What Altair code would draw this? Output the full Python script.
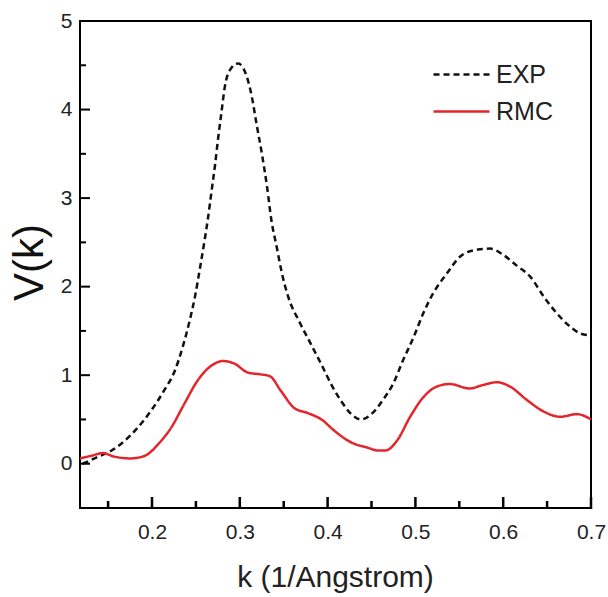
import altair as alt
import pandas as pd

# EXP (dashed black) curve
exp_k = [0.121, 0.139, 0.154, 0.169, 0.184, 0.199, 0.214, 0.226, 0.235, 0.243, 0.249, 0.255,
         0.260, 0.264, 0.268, 0.272, 0.2755, 0.279, 0.283, 0.289, 0.298, 0.308, 0.3136, 0.319,
         0.325, 0.331, 0.336, 0.342, 0.348, 0.355, 0.368, 0.380, 0.393, 0.405, 0.416, 0.427,
         0.438, 0.452, 0.463, 0.475, 0.486, 0.498, 0.509, 0.520, 0.536, 0.551, 0.566, 0.585,
         0.600, 0.615, 0.631, 0.646, 0.661, 0.676, 0.688, 0.699]
exp_v = [0.00, 0.08, 0.15, 0.26, 0.41, 0.60, 0.83, 1.05, 1.32, 1.62, 1.89, 2.23,
         2.53, 2.79, 3.09, 3.39, 3.69, 3.96, 4.26, 4.45, 4.52, 4.37, 4.15, 3.84,
         3.51, 3.13, 2.75, 2.45, 2.15, 1.89, 1.60, 1.37, 1.12, 0.88, 0.70, 0.56,
         0.50, 0.58, 0.72, 0.91, 1.17, 1.43, 1.70, 1.92, 2.15, 2.34, 2.41, 2.43,
         2.36, 2.24, 2.11, 1.89, 1.70, 1.55, 1.47, 1.45]

# RMC (solid red) curve
rmc_k = [0.118, 0.131, 0.144, 0.157, 0.176, 0.192, 0.207, 0.222, 0.237, 0.252, 0.268, 0.281,
         0.294, 0.309, 0.323, 0.334, 0.347, 0.362, 0.378, 0.393, 0.408, 0.427, 0.446, 0.457,
         0.466, 0.479, 0.494, 0.509, 0.524, 0.539, 0.562, 0.577, 0.593, 0.608, 0.627, 0.646,
         0.665, 0.684, 0.700]
rmc_v = [0.06, 0.09, 0.12, 0.08, 0.06, 0.09, 0.22, 0.41, 0.68, 0.94, 1.11, 1.16,
         1.13, 1.03, 1.01, 0.99, 0.82, 0.63, 0.57, 0.50, 0.37, 0.24, 0.18, 0.15,
         0.15, 0.26, 0.53, 0.75, 0.87, 0.90, 0.85, 0.89, 0.92, 0.87, 0.72, 0.59,
         0.53, 0.56, 0.50]

series_names = ["EXP", "RMC"]
series_colors = ["#111111", "#e4262c"]
series_dashes = [[6, 4], [1, 0]]

x_major = [0.2, 0.3, 0.4, 0.5, 0.6, 0.7]
x_minor = [0.15, 0.25, 0.35, 0.45, 0.55, 0.65]
y_major = [0, 1, 2, 3, 4, 5]
y_minor = [-0.5, 0.5, 1.5, 2.5, 3.5, 4.5]

df = pd.concat([
    pd.DataFrame({"k": exp_k, "v": exp_v, "series": "EXP", "order": range(len(exp_k))}),
    pd.DataFrame({"k": rmc_k, "v": rmc_v, "series": "RMC", "order": range(len(rmc_k))}),
])

FONT = "Liberation Sans"
W, H = 511, 487
MAJ, MIN = 11, 7

xscale = alt.Scale(domain=[0.118, 0.7], nice=False, zero=False)
yscale = alt.Scale(domain=[-0.5, 5], nice=False, zero=False)

lines = alt.Chart(df).mark_line(strokeWidth=2.5, interpolate="monotone", clip=True).encode(
    x=alt.X("k:Q", scale=xscale,
            axis=alt.Axis(orient="bottom", values=x_major, format=".1f", ticks=False, tickSize=0,
                          domain=False, grid=False, labelFlush=False,
                          labelFont=FONT, labelFontSize=21, labelColor="#222", labelPadding=13,
                          title="k (1/Angstrom)", titleFont=FONT, titleFontSize=30,
                          titleFontWeight="normal", titleColor="#222",
                          titleX=255, titleY=69, titleBaseline="middle", titleAlign="center")),
    y=alt.Y("v:Q", scale=yscale,
            axis=alt.Axis(orient="left", values=y_major, format="d", ticks=False, tickSize=0,
                          domain=False, grid=False, labelFlush=False,
                          labelFont=FONT, labelFontSize=21, labelColor="#222", labelPadding=8,
                          title="V(k)", titleFont=FONT, titleFontSize=42,
                          titleFontWeight="normal", titleColor="#111", titleAngle=270,
                          titleX=-51, titleY=241, titleBaseline="middle", titleAlign="center")),
    color=alt.Color("series:N", scale=alt.Scale(domain=series_names, range=series_colors),
                    legend=alt.Legend(orient="none", legendX=366, legendY=38, title=None,
                                      symbolType="M-2,0H2", symbolSize=784, symbolStrokeWidth=2.5,
                                      labelFont=FONT, labelFontSize=25, labelColor="#222",
                                      labelOffset=19, rowPadding=8, padding=0)),
    strokeDash=alt.StrokeDash("series:N", scale=alt.Scale(domain=series_names, range=series_dashes),
                              legend=None),
    order="order:Q",
)

# tick marks along the bottom and left edges, pointing into the plot
xt_major = alt.Chart(pd.DataFrame({"k": x_major})).mark_rule(color="black", strokeWidth=2.5).encode(
    x=alt.X("k:Q", scale=xscale), x2="k:Q", y=alt.value(H - MAJ), y2=alt.value(H + 1))
xt_minor = alt.Chart(pd.DataFrame({"k": x_minor})).mark_rule(color="black", strokeWidth=2.5).encode(
    x=alt.X("k:Q", scale=xscale), x2="k:Q", y=alt.value(H - MIN), y2=alt.value(H + 1))
yt_major = alt.Chart(pd.DataFrame({"v": y_major})).mark_rule(color="black", strokeWidth=2).encode(
    y=alt.Y("v:Q", scale=yscale), y2="v:Q", x=alt.value(0), x2=alt.value(10))
yt_minor = alt.Chart(pd.DataFrame({"v": y_minor})).mark_rule(color="black", strokeWidth=2).encode(
    y=alt.Y("v:Q", scale=yscale), y2="v:Q", x=alt.value(0), x2=alt.value(6))

chart = alt.layer(lines, yt_major, yt_minor, xt_major, xt_minor).properties(
    width=W, height=H,
    autosize=alt.AutoSizeParams(type="none"),
    padding={"left": 80, "top": 21, "right": 17, "bottom": 89},
    background="white",
).configure_view(stroke="black", strokeWidth=2)

chart.save("out.html", embed_options={"renderer": "svg", "actions": False})
